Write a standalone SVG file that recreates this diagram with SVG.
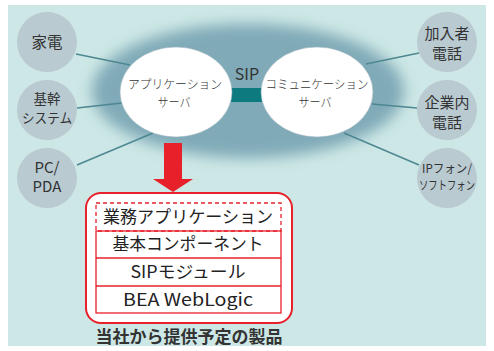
<svg xmlns="http://www.w3.org/2000/svg" width="494" height="351" viewBox="0 0 494 351">
<style>
.t{font-family:"Noto Sans CJK JP","Liberation Sans",sans-serif;fill:#333;text-anchor:middle}
.c{fill:#b9cad1}
.srv{fill:#fff;stroke:#9ab4bc;stroke-width:0.6}
.ln{stroke:#4d8791;stroke-width:1.5;fill:none}
.row{fill:none;stroke:#e8202a;stroke-width:1.3}
.rt{font-family:"Noto Sans CJK JP","Liberation Sans",sans-serif;fill:#222;text-anchor:middle;font-size:17px;font-weight:400}
</style>
<defs>
<filter id="blur" x="-20%" y="-30%" width="140%" height="160%"><feGaussianBlur stdDeviation="7"/></filter>
</defs>
<rect x="0" y="0" width="494" height="351" fill="#fff"/>
<rect x="8" y="5" width="478" height="341" fill="#cce7e5"/>
<ellipse cx="248" cy="91" rx="156" ry="67" fill="#80aab8" filter="url(#blur)"/>
<g id="connectors">
<line class="ln" x1="76" y1="54" x2="130" y2="65"/>
<line class="ln" x1="77" y1="108" x2="122" y2="103"/>
<line class="ln" x1="77" y1="165" x2="153" y2="133"/>
<line class="ln" x1="366" y1="64" x2="419" y2="53"/>
<line class="ln" x1="372" y1="104" x2="417" y2="108"/>
<line class="ln" x1="344" y1="133" x2="419" y2="165"/>
<rect x="230" y="88" width="33" height="14" fill="#0d7a80"/>
<text class="t" x="247" y="80" font-size="16" font-family="Liberation Sans,sans-serif">SIP</text>
<path d="M164,143 H182 V179 H193 L173,192 L153,179 H164 Z" fill="#e8202a"/>
</g>
<g id="kaden"><circle class="c" cx="47" cy="42" r="30"/><text class="t" x="47" y="48" font-size="15.5">家電</text></g>
<g id="kikan"><circle class="c" cx="47" cy="110" r="30"/><text class="t" x="47" y="104" font-size="13.5">基幹</text><text class="t" x="47" y="123" font-size="13.5" textLength="50" lengthAdjust="spacingAndGlyphs">システム</text></g>
<g id="pcpda"><circle class="c" cx="47" cy="178" r="30"/><text class="t" x="47" y="173" font-size="15" font-family="Liberation Sans,sans-serif">PC/</text><text class="t" x="47" y="192" font-size="15" font-family="Liberation Sans,sans-serif">PDA</text></g>
<g id="kanyusha"><circle class="c" cx="447" cy="42" r="30"/><text class="t" x="447" y="39" font-size="15">加入者</text><text class="t" x="447" y="59" font-size="15">電話</text></g>
<g id="kigyounai"><circle class="c" cx="447" cy="110" r="30"/><text class="t" x="447" y="108" font-size="15">企業内</text><text class="t" x="447" y="128" font-size="15">電話</text></g>
<g id="ipphone"><circle class="c" cx="447" cy="178" r="30"/><text class="t" x="447" y="173" font-size="12" textLength="50" lengthAdjust="spacingAndGlyphs">IPフォン/</text><text class="t" x="447" y="190" font-size="12" textLength="56" lengthAdjust="spacingAndGlyphs">ソフトフォン</text></g>
<g id="appserver"><ellipse class="srv" cx="176" cy="92" rx="56" ry="45"/><text class="t" x="175" y="89" font-size="12.5" font-weight="300" textLength="94" lengthAdjust="spacingAndGlyphs">アプリケーション</text><text class="t" x="174" y="107" font-size="12.5" font-weight="300" textLength="33" lengthAdjust="spacingAndGlyphs">サーバ</text></g>
<g id="commserver"><ellipse class="srv" cx="317" cy="92" rx="56" ry="45"/><text class="t" x="317" y="89" font-size="12.5" font-weight="300" textLength="103" lengthAdjust="spacingAndGlyphs">コミュニケーション</text><text class="t" x="315" y="107" font-size="12.5" font-weight="300" textLength="33" lengthAdjust="spacingAndGlyphs">サーバ</text></g>
<g id="products">
<rect x="86" y="193" width="206" height="130" rx="15" fill="#fff" stroke="#e8202a" stroke-width="2"/>
<rect x="96" y="203" width="185" height="28" fill="none" stroke="#e8202a" stroke-width="1.3" stroke-dasharray="4,3"/>
<rect class="row" x="96" y="231" width="185" height="82"/>
<line class="row" x1="96" y1="258" x2="281" y2="258"/>
<line class="row" x1="96" y1="286" x2="281" y2="286"/>
<text class="rt" x="188" y="223" textLength="170" lengthAdjust="spacingAndGlyphs">業務アプリケーション</text>
<text class="rt" x="188" y="250" textLength="151" lengthAdjust="spacingAndGlyphs">基本コンポーネント</text>
<text class="rt" x="188" y="278" textLength="115" lengthAdjust="spacingAndGlyphs">SIPモジュール</text>
<text class="rt" x="188" y="306" font-family="Liberation Sans,sans-serif" font-size="18" textLength="130" lengthAdjust="spacingAndGlyphs">BEA WebLogic</text>
</g>
<g id="caption"><text class="t" x="189" y="343" font-size="17" font-weight="bold" textLength="187" lengthAdjust="spacingAndGlyphs">当社から提供予定の製品</text></g>
</svg>
